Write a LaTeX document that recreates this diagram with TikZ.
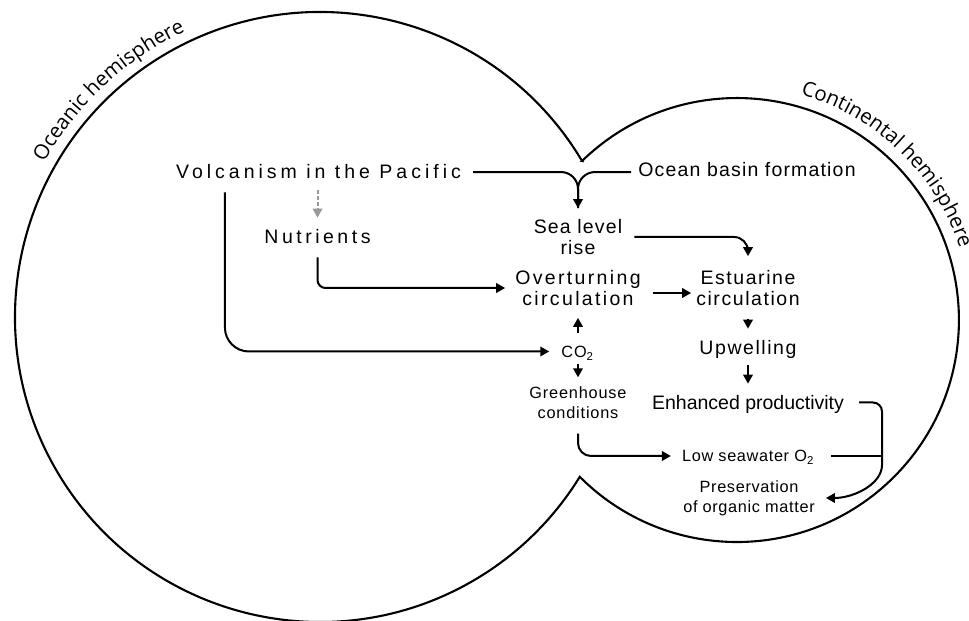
\documentclass[tikz,border=0pt]{standalone}
\usepackage{fontspec}
\setmainfont{Liberation Sans}
\newfontfamily\curvefam{Open Sans}
\usetikzlibrary{arrows.meta,calc,decorations.text}
\newcommand\curvelbl{\curvefam\fontsize{20.5}{24}\selectfont}
\definecolor{arrgray}{HTML}{999999}
\begin{document}
\begin{tikzpicture}[x=1pt,y=1pt,
  lbl/.style={inner sep=0pt, align=center, font=\fontsize{19.5}{21}\selectfont\addfontfeature{LetterSpace=#1}},
  lbl/.default=0,
  slbl/.style={inner sep=0pt, align=center, font=\fontsize{16.3}{20}\selectfont\addfontfeature{LetterSpace=#1}},
  slbl/.default=5,
  outline/.style={line width=2.1pt},
  line/.style={line width=2pt},
  conn/.style={line, -{Triangle[length=9pt,width=9.5pt]}},
  gconn/.style={line width=2pt, draw=arrgray, dash pattern=on 3.5pt off 2.5pt, -{Triangle[length=9pt,width=9.5pt]}}]
\useasboundingbox (0,0) rectangle (969,621);

% hemispheres
\coordinate (Lc) at (320,304);
\coordinate (Rc) at (737,301);
\draw[outline] ($(Lc)+(30.76:305)$) arc[start angle=30.76, end angle=328.4, radius=305]
  arc[start angle=-135.07, end angle=134.25, radius=222] -- cycle;
\path[decorate, decoration={text along path, text={|\curvelbl|Oceanic hemisphere}, text align=center}]
  ($(Lc)+(155:316)$) arc[start angle=155, end angle=111, radius=316];
\path[decorate, decoration={text along path, text={|\curvelbl|Continental hemisphere}, text align=center}]
  ($(Rc)+(78:234)$) arc[start angle=78, end angle=14, radius=234];

% labels
\node[lbl=20.5, anchor=base] (volc) at (318.5,442) {Volcanism in the Pacific};
\node[lbl=6, anchor=base] (ocean) at (747,444) {Ocean basin formation};
\node[lbl=18, anchor=base] (nutr) at (317.5,377) {Nutrients};
\node[lbl=6] (sea) at (578,384) {Sea level\\rise};
\node[lbl=12] (overt) at (578,333) {Overturning\\circulation};
\node[lbl=8] (est) at (748,333) {Estuarine\\circulation};
\node[lbl=8, anchor=base] (upw) at (748,266) {Upwelling};
\node[lbl, anchor=base] (enh) at (748,211) {Enhanced productivity};
\node[slbl, anchor=base] (co2) at (577.5,263) {CO\textsubscript{2}};
\node[slbl] (green) at (578,218.5) {Greenhouse\\conditions};
\node[slbl=4, anchor=base] (low) at (748,159) {Low seawater O\textsubscript{2}};
\node[slbl=4] (pres) at (749,123) {Preservation\\of organic matter};

% connectors
\draw[conn, rounded corners=17] ($(volc.east)+(12,0)$) -| ($(sea.north)+(0,11)$);
\draw[line, rounded corners=17] ($(ocean.west |- volc.east)+(-7,0)$) -| ($(sea.north)+(0,11)$);
\draw[gconn] ($(nutr.north |- volc.south)+(0,-11)$) -- ($(nutr.north)+(0,12)$);
\draw[conn, rounded corners=8] ($(nutr.south)+(0,-13)$) |- ($(overt.west)+(-10,0)$);
\draw[conn, rounded corners=24] ($(volc.south west)+(49,-13)$) |- ($(co2.base west)+(-12,6.5)$);
\draw[conn] ($(overt.south |- co2.north)+(0,13)$) -- ($(overt.south)+(0,-12)$);
\draw[conn] ($(overt.south |- co2.south)+(0,-3)$) -- ($(green.north)+(0,9)$);
\draw[conn, rounded corners=14] ($(sea.east)+(12,0)$) -| ($(est.north)+(0,14)$);
\draw[conn] ($(overt.east)+(12,-5)$) -- ($(est.west)+(-5,-5)$);
\draw[conn] ($(est.south)+(0,-13)$) -- ($(upw.north)+(0,12)$);
\draw[conn] ($(upw.south)+(0,-6)$) -- ($(enh.north)+(0,12)$);
\draw[conn, rounded corners=13] ($(green.south)+(0,-15)$) |- ($(low.base west)+(-11,6)$);
\coordinate (jn) at (882,165);
\draw[conn, rounded corners=9] ($(enh.base east)+(15,7.5)$) -| (jn)
  .. controls +(0,-28) and +(28,0) .. ($(pres.east)+(11,0)$);
\draw[line] ($(low.base east)+(17,6)$) -- (jn);
\end{tikzpicture}
\end{document}
